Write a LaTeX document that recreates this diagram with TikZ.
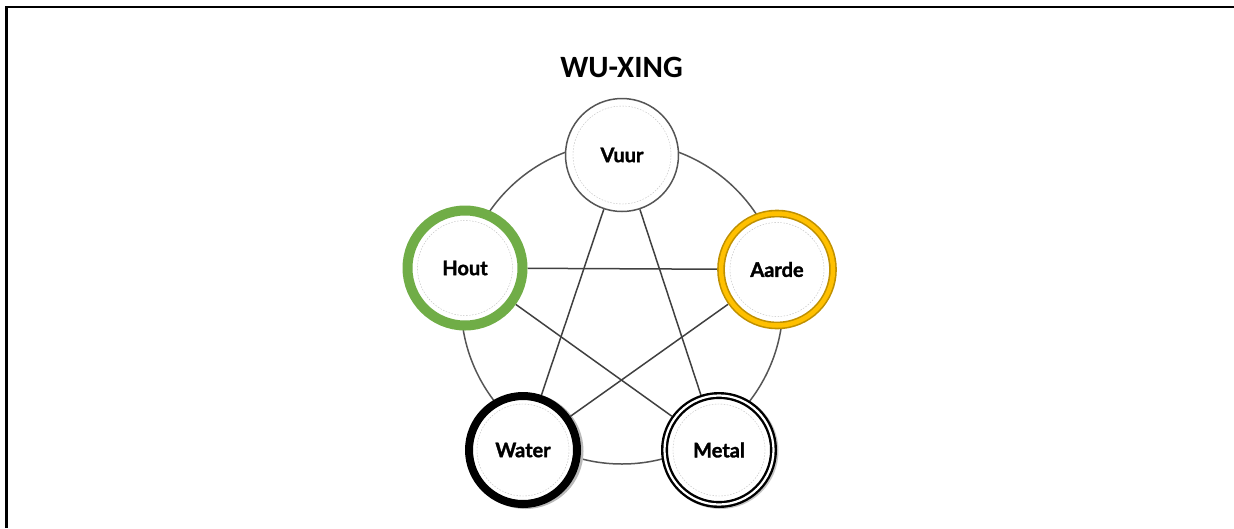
\documentclass[tikz,border=0pt]{standalone}
\usepackage{fontspec}
\setmainfont{Lato}
\newfontfamily\labelfont{Lato}[BoldFeatures={FakeBold=1.6}]
\newfontfamily\titlefont{Carlito}
\usetikzlibrary{backgrounds,calc}
\definecolor{woodgreen}{HTML}{70AD47}
\definecolor{earthgold}{HTML}{FFC000}
\definecolor{earthdark}{HTML}{BF9000}
\definecolor{ringgray}{HTML}{555555}
\definecolor{linegray}{HTML}{404040}
\begin{document}
\begin{tikzpicture}[x=1pt,y=-1pt,
  element/.style={circle, fill=white, inner sep=0pt, text=black,
    font=\labelfont\fontsize{20}{20}\selectfont\bfseries},
  firestyle/.style={element, draw=ringgray, line width=1.5pt, minimum size=113pt},
  woodstyle/.style={element, draw=woodgreen, line width=10pt, minimum size=115pt},
  earthstyle/.style={element, draw=earthdark, line width=1.6pt, double=earthgold,
    double distance=4.5pt, minimum size=112pt, outer sep=4pt},
  waterstyle/.style={element, draw=black, line width=8pt, minimum size=108pt},
  metalstyle/.style={element, draw=black, line width=2.4pt, double=white,
    double distance=2.2pt, minimum size=109pt, outer sep=3.5pt},
  innerdash/.style={draw=black!25, line width=0.4pt, dash pattern=on 1.5pt off 1.5pt},
  link/.style={draw=linegray, line width=1.5pt},
  cyclering/.style={circle, draw=ringgray, line width=1.5pt, inner sep=0pt, minimum size=322pt},
  frame/.style={line width=2.5pt, draw=black}
]
\useasboundingbox (0,0) rectangle (1234,528);
\draw[frame] (6.5,528) -- (6.5,7) -- (1234,7);

\node[font=\titlefont\fontsize{31}{31}\selectfont\bfseries] (title) at (621.5,67.5) {WU-XING};

\node[firestyle]  (vuur)  at (622,155) {Vuur};
\node[woodstyle]  (hout)  at (465,268) {Hout};
\node[earthstyle] (aarde) at (777,269.5) {Aarde};
\node[waterstyle] (water) at (523,450) {Water};
\node[metalstyle] (metal) at (719,450) {Metal};

\begin{scope}[on background layer]
  \node[cyclering] (cycle) at (622,303) {};
  \draw[gray!55, line width=8pt] ($(water.center)+(2.5,1)$) circle (54pt);
  \draw[gray!45, line width=2pt] ($(metal.center)+(1.5,1)$) circle (57pt);
  \draw[link] (hout) -- (aarde);
  \draw[link] (vuur) -- (water);
  \draw[link] (vuur) -- (metal);
  \draw[link] (hout) -- (metal);
  \draw[link] (aarde) -- (water);
\end{scope}

\draw[innerdash] (vuur.center) circle (49pt);
\draw[innerdash] (hout.center) circle (47.5pt);
\draw[innerdash] (aarde.center) circle (47pt);
\draw[innerdash] (water.center) circle (46pt);
\draw[innerdash] (metal.center) circle (46pt);
\end{tikzpicture}
\end{document}
